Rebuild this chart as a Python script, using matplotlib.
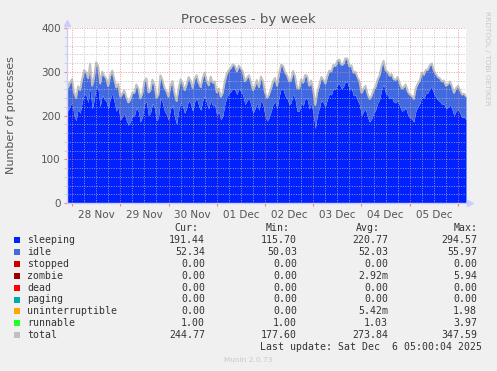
import numpy as np
import pandas as pd
import matplotlib
matplotlib.use('Agg')
import matplotlib.pyplot as plt
import matplotlib.dates as mdates
from matplotlib.patches import Rectangle

# hourly samples
times = pd.date_range('2025-11-27 21:00', periods=200, freq='1h')

sleeping = [242, 210, 222, 230, 200, 188, 215, 205, 229, 250, 245, 230, 263, 215, 235, 268, 259, 220, 247, 238,
            232, 215, 239, 250, 231, 210, 219, 190, 197, 205, 189, 178, 185, 200, 199, 218, 209, 185, 197, 225,
            232, 200, 205, 228, 217, 188, 195, 240, 229, 210, 202, 190, 215, 225, 197, 180, 209, 230, 222, 205,
            217, 235, 227, 210, 231, 240, 223, 212, 233, 245, 227, 215, 235, 222, 225, 200, 209, 190, 199, 225,
            242, 250, 255, 262, 259, 248, 261, 255, 247, 225, 233, 240, 225, 205, 215, 228, 212, 235, 225, 200,
            187, 195, 209, 225, 232, 215, 242, 262, 259, 245, 239, 225, 229, 250, 237, 210, 209, 230, 222, 240,
            237, 215, 227, 205, 170, 200, 217, 235, 229, 220, 237, 250, 247, 262, 259, 270, 272, 262, 265, 278,
            275, 258, 262, 245, 247, 235, 225, 200, 209, 215, 197, 185, 192, 205, 212, 228, 237, 258, 272, 250,
            247, 238, 242, 230, 229, 235, 222, 210, 212, 218, 202, 195, 192, 185, 209, 220, 227, 245, 239, 250,
            252, 262, 265, 250, 242, 235, 232, 225, 227, 215, 219, 225, 215, 200, 209, 215, 205, 195, 197, 191]
idle = [52, 53, 53, 52, 52, 51, 51, 52, 52, 53, 53, 54, 54, 52, 52, 53, 53, 52, 52, 52,
        52, 51, 51, 52, 52, 53, 53, 52, 52, 52, 52, 51, 51, 52, 52, 52, 52, 53, 53, 52,
        52, 52, 52, 53, 53, 52, 52, 51, 51, 52, 52, 52, 52, 53, 53, 52, 52, 52, 52, 52,
        53, 52, 52, 52, 52, 51, 51, 52, 52, 52, 52, 53, 53, 52, 52, 52, 52, 52, 52, 52,
        52, 53, 53, 54, 54, 52, 52, 52, 52, 52, 52, 51, 51, 52, 52, 52, 52, 53, 53, 52,
        52, 52, 52, 52, 53, 52, 52, 53, 54, 52, 52, 52, 52, 51, 51, 52, 52, 52, 52, 52,
        52, 52, 52, 52, 53, 52, 52, 52, 52, 52, 52, 52, 53, 53, 53, 54, 55, 53, 52, 52,
        54, 53, 52, 52, 52, 52, 52, 51, 51, 52, 52, 52, 52, 52, 53, 53, 54, 54, 52, 52,
        52, 52, 52, 52, 52, 52, 51, 51, 52, 52, 52, 52, 52, 52, 52, 52, 52, 52, 53, 53,
        52, 52, 53, 52, 52, 52, 52, 52, 52, 52, 52, 52, 51, 51, 52, 52, 52, 52, 52, 52]
runnable = [1] * 200

names = ['sleeping', 'idle', 'stopped', 'zombie', 'dead', 'paging',
         'uninterruptible', 'runnable', 'total']
colors = ['#0022ff', '#4169e1', '#cc0000', '#990000', '#ff0000', '#00aaaa',
          '#ffa500', '#22ff22', '#c0c0c0']
cur = ['191.44', '52.34', '0.00', '0.00', '0.00', '0.00', '0.00', '1.00', '244.77']
mins = ['115.70', '50.03', '0.00', '0.00', '0.00', '0.00', '0.00', '1.00', '177.60']
avgs = ['220.77', '52.03', '0.00', '2.92m', '0.00', '0.00', '5.42m', '1.03', '273.84']
maxs = ['294.57', '55.97', '0.00', '5.94', '0.00', '0.00', '1.98', '3.97', '347.59']

W, H = 497, 371
fx = lambda x: x / W
fy = lambda y: 1 - y / H

s = np.array(sleeping, float)
i = np.array(idle, float)
r = np.array(runnable, float)
total = s + i + r

fig = plt.figure(figsize=(W / 100, H / 100), dpi=100, facecolor='#f0f0f0')
ax = fig.add_axes([fx(67), fy(203), 399 / W, 175 / H])
ax.set_facecolor('white')

ax.fill_between(times, 0, s, color=colors[0], lw=0, zorder=2)
ax.fill_between(times, s, s + i, color=colors[1], lw=0, zorder=2)
ax.fill_between(times, s + i, s + i + r, color=colors[7], lw=0, zorder=2)
ax.plot(times, total, color=colors[8], lw=1.4, zorder=3)

x0 = pd.Timestamp('2025-11-27 21:30')
x1 = pd.Timestamp('2025-12-06 04:00')
ax.set_xlim(x0, x1)
ax.set_ylim(0, 400)

# grid on top of the data, like rrdtool
for t in pd.date_range('2025-11-28', '2025-12-06 03:00', freq='6h'):
    if t.hour == 0:
        ax.axvline(t, color='#e88080', lw=0.7, ls=(0, (1, 1.5)), alpha=0.8, zorder=5)
    else:
        ax.axvline(t, color='#b8b8b8', lw=0.7, ls=(0, (1, 1.5)), alpha=0.8, zorder=5)
for v in range(20, 401, 20):
    if v % 100 == 0:
        ax.axhline(v, color='#e88080', lw=0.7, ls=(0, (1, 1.5)), alpha=0.8, zorder=5)
    else:
        ax.axhline(v, color='#b8b8b8', lw=0.7, ls=(0, (1, 1.5)), alpha=0.8, zorder=5)

ax.xaxis.set_major_locator(mdates.HourLocator(byhour=[12]))
ax.xaxis.set_major_formatter(mdates.DateFormatter('%d %b'))
ax.xaxis.set_minor_locator(mdates.HourLocator(byhour=[0]))
ax.tick_params(axis='x', which='major', length=0, pad=5, labelsize=7.5, labelcolor='#555555')
ax.tick_params(axis='x', which='minor', length=2.5, color='#f08080', width=0.8)
ax.set_yticks([0, 100, 200, 300, 400])
ax.set_yticks(range(20, 400, 20), minor=True)
ax.tick_params(axis='y', which='major', length=2.5, color='#f08080', width=0.8,
               labelsize=7.5, labelcolor='#555555', pad=2)
ax.tick_params(axis='y', which='minor', length=2, color='#c8c8c8', width=0.6)

for sp in ['top', 'right']:
    ax.spines[sp].set_visible(False)
for sp in ['left', 'bottom']:
    ax.spines[sp].set_color('#ccccff')
    ax.spines[sp].set_linewidth(1)
    ax.spines[sp].set_zorder(6)

# axis arrows
ax.plot([0], [1.03], marker='^', ms=4, color='#ccccff', transform=ax.transAxes, clip_on=False)
ax.plot([1.01], [0], marker='>', ms=4, color='#ccccff', transform=ax.transAxes, clip_on=False)

fig.text(fx(248), fy(19), 'Processes - by week', ha='center', va='center',
         fontsize=9.5, color='#555555')
fig.text(fx(11), fy(115), 'Number of processes', ha='center', va='center',
         rotation=90, fontsize=8, color='#555555')
fig.text(fx(487), fy(58), 'RRDTOOL / TOBI OETIKER', ha='center', va='center',
         rotation=270, fontsize=5.3, color='#c8c8c8')

mono = 'DejaVu Sans Mono'
fs = 7.1
tc = '#333333'
hy = 228
fig.text(fx(198), fy(hy), 'Cur:', ha='right', va='center', family=mono, fontsize=fs, color=tc)
fig.text(fx(290), fy(hy), 'Min:', ha='right', va='center', family=mono, fontsize=fs, color=tc)
fig.text(fx(380), fy(hy), 'Avg:', ha='right', va='center', family=mono, fontsize=fs, color=tc)
fig.text(fx(478), fy(hy), 'Max:', ha='right', va='center', family=mono, fontsize=fs, color=tc)

for k in range(len(names)):
    y = 240 + k * 11.9
    fig.patches.append(Rectangle((fx(14), fy(y + 3)), 6 / W, 6 / H,
                                 transform=fig.transFigure, color=colors[k], lw=0))
    fig.text(fx(27), fy(y), names[k], ha='left', va='center', family=mono, fontsize=fs, color=tc)
    fig.text(fx(205), fy(y), cur[k], ha='right', va='center', family=mono, fontsize=fs, color=tc)
    fig.text(fx(297), fy(y), mins[k], ha='right', va='center', family=mono, fontsize=fs, color=tc)
    fig.text(fx(388), fy(y), avgs[k], ha='right', va='center', family=mono, fontsize=fs, color=tc)
    fig.text(fx(477), fy(y), maxs[k], ha='right', va='center', family=mono, fontsize=fs, color=tc)

fig.text(fx(482), fy(347), 'Last update: Sat Dec  6 05:00:04 2025', ha='right', va='center',
         family=mono, fontsize=fs, color=tc)
fig.text(fx(248), fy(360), 'Munin 2.0.73', ha='center', va='center', fontsize=5.3, color='#c8c8c8')

fig.savefig('out.png', dpi=100, facecolor=fig.get_facecolor())
